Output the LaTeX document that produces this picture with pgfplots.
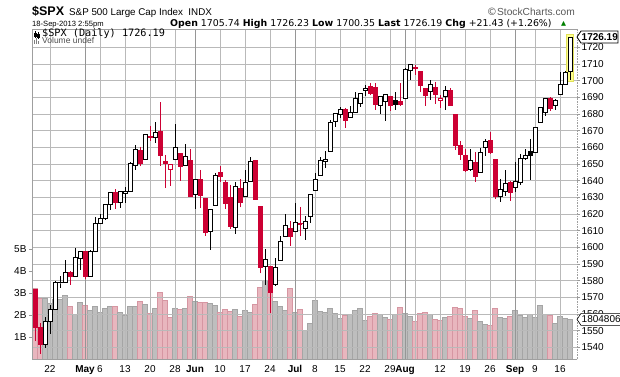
\documentclass[border=0pt]{standalone}
\usepackage{pgfplots}
\pgfplotsset{compat=1.18}
\usepackage{pgfplotstable}
\usepgfplotslibrary{statistics}
\usepackage{fontspec}
\setmainfont{Liberation Sans}
\newfontfamily\monofont{DejaVu Sans Mono}
\newfontfamily\symfont{DejaVu Sans}
\definecolor{spxred}{RGB}{204,0,51}
\definecolor{volgray}{RGB}{190,190,190}
\definecolor{volgrayd}{RGB}{165,165,165}
\definecolor{volpink}{RGB}{232,182,190}
\definecolor{volpinkd}{RGB}{214,150,162}
\definecolor{gridc}{RGB}{185,185,185}
\definecolor{gridm}{RGB}{150,150,150}
\definecolor{hlyellow}{RGB}{255,255,140}
\definecolor{hlyellowd}{RGB}{225,225,90}
\definecolor{upgreen}{RGB}{0,128,0}

% i = trading day index (0 = 17-Apr-2013), o h l c = price, v = volume (billions)
\pgfplotstableread{
i o h l c v
0 1574.57 1574.57 1543.69 1552.01 3.21
1 1552.03 1554.38 1536.03 1541.61 2.76
2 1541.61 1558.33 1539.80 1555.25 2.76
3 1555.25 1565.55 1548.19 1562.50 2.53
4 1562.50 1579.58 1562.50 1578.78 2.71
5 1578.78 1583.00 1575.80 1578.79 2.71
6 1578.93 1592.64 1578.93 1585.16 2.91
7 1585.16 1585.78 1577.56 1582.24 2.41
8 1582.34 1599.61 1582.34 1593.61 2.05
9 1593.58 1597.57 1586.50 1597.57 2.59
10 1597.55 1597.55 1581.28 1582.70 2.45
11 1582.77 1598.60 1582.77 1597.59 2.23
12 1597.60 1618.46 1597.60 1614.42 2.41
13 1614.40 1619.77 1614.21 1617.50 2.15
14 1617.55 1626.03 1616.64 1625.96 2.30
15 1625.95 1632.78 1622.70 1632.69 2.41
16 1632.69 1635.01 1623.09 1626.67 2.41
17 1626.69 1633.70 1623.71 1633.70 2.12
18 1632.10 1636.00 1626.74 1633.77 2.00
19 1633.75 1651.10 1633.75 1650.34 2.41
20 1649.13 1661.49 1646.68 1658.78 2.42
21 1658.07 1660.51 1648.60 1650.47 2.64
22 1652.45 1667.47 1652.45 1667.47 2.50
23 1665.71 1672.84 1663.52 1666.29 2.08
24 1666.20 1674.93 1662.67 1669.16 2.30
25 1669.39 1687.18 1648.86 1655.35 3.03
26 1651.62 1655.50 1635.53 1650.51 2.68
27 1646.67 1649.78 1636.88 1649.60 1.89
28 1652.63 1674.21 1652.63 1660.06 2.30
29 1656.57 1656.57 1640.05 1648.36 2.26
30 1649.14 1661.91 1648.61 1654.41 2.30
31 1652.13 1658.99 1630.74 1630.74 2.86
32 1631.71 1640.42 1622.72 1640.42 2.64
33 1640.73 1646.53 1623.62 1631.38 2.56
34 1629.05 1629.31 1607.09 1608.90 2.59
35 1609.29 1622.56 1598.23 1622.56 2.53
36 1625.27 1644.40 1625.27 1643.38 2.45
37 1644.67 1648.69 1639.26 1642.81 2.15
38 1638.64 1640.13 1622.92 1626.13 2.27
39 1629.94 1637.71 1610.92 1612.52 2.18
40 1612.15 1639.25 1608.07 1636.36 2.26
41 1635.52 1640.80 1623.96 1626.73 1.95
42 1630.64 1646.50 1630.34 1639.04 2.20
43 1639.77 1654.19 1639.77 1651.81 2.15
44 1651.83 1652.45 1628.91 1628.93 2.48
45 1624.62 1624.62 1584.32 1588.19 3.26
46 1588.62 1599.19 1577.70 1592.43 3.59
47 1588.77 1588.77 1560.33 1573.09 3.10
48 1577.52 1593.79 1577.09 1588.03 2.64
49 1592.27 1606.83 1592.27 1603.26 2.42
50 1606.44 1620.07 1606.44 1613.20 2.23
51 1611.12 1615.94 1601.06 1606.28 3.21
52 1609.78 1626.61 1609.78 1614.96 2.12
53 1614.29 1624.26 1606.77 1614.08 2.27
54 1611.48 1618.97 1604.57 1615.41 1.32
55 1618.65 1632.07 1614.71 1631.89 1.62
56 1634.20 1644.68 1634.20 1640.46 2.68
57 1642.89 1654.18 1642.89 1652.32 2.18
58 1651.56 1657.92 1647.66 1652.62 2.15
59 1657.41 1676.63 1657.41 1675.02 2.30
60 1675.26 1680.19 1672.33 1680.19 2.10
61 1679.59 1684.51 1677.89 1682.50 1.85
62 1682.70 1683.73 1671.84 1676.26 2.00
63 1677.91 1684.75 1677.91 1680.91 2.05
64 1681.05 1693.12 1681.05 1689.37 2.20
65 1686.15 1692.09 1684.08 1692.09 2.30
66 1694.41 1697.61 1690.67 1695.53 1.75
67 1696.63 1698.78 1691.13 1692.39 1.95
68 1696.06 1698.38 1682.57 1685.94 2.10
69 1685.21 1690.94 1680.07 1690.25 2.05
70 1687.31 1691.85 1676.03 1691.65 1.90
71 1690.32 1690.92 1681.86 1685.33 1.80
72 1687.92 1693.19 1682.42 1685.96 2.05
73 1687.76 1698.43 1684.94 1685.73 2.35
74 1689.42 1707.85 1689.42 1706.87 2.10
75 1706.10 1709.67 1700.68 1709.67 1.95
76 1708.01 1709.24 1703.55 1707.14 1.70
77 1705.79 1705.79 1693.29 1697.37 2.10
78 1695.30 1695.30 1684.91 1690.91 2.15
79 1693.35 1700.18 1688.38 1697.48 2.05
80 1696.10 1699.42 1686.02 1691.42 1.80
81 1688.37 1691.49 1683.35 1689.47 1.75
82 1690.65 1696.81 1682.62 1694.16 1.90
83 1693.88 1695.52 1684.83 1685.39 1.95
84 1679.61 1679.61 1658.59 1661.32 2.35
85 1661.22 1663.60 1652.61 1655.83 2.30
86 1655.25 1659.18 1645.84 1646.06 1.95
87 1646.81 1658.92 1646.08 1652.35 1.85
88 1650.66 1656.99 1639.43 1642.80 2.20
89 1645.03 1659.55 1645.03 1656.96 1.70
90 1659.92 1664.85 1654.81 1663.50 1.60
91 1664.29 1669.51 1656.02 1656.78 1.55
92 1652.54 1652.54 1629.05 1630.48 2.30
93 1630.25 1641.18 1627.47 1634.96 1.90
94 1633.50 1646.41 1630.88 1638.17 1.85
95 1638.89 1640.08 1628.05 1632.97 1.95
96 1635.95 1651.35 1633.41 1639.77 2.20
97 1638.72 1655.72 1637.41 1653.08 2.00
98 1653.28 1659.17 1653.07 1655.08 1.90
99 1657.44 1664.83 1640.62 1655.17 2.05
100 1656.85 1672.40 1656.85 1671.71 1.92
101 1675.11 1684.09 1675.11 1683.99 2.45
102 1681.04 1689.13 1678.70 1689.13 2.05
103 1689.21 1689.97 1681.96 1683.42 2.00
104 1685.04 1688.73 1682.22 1687.99 1.62
105 1691.70 1704.95 1691.70 1697.60 1.95
106 1697.73 1705.52 1697.73 1704.76 1.85
107 1705.74 1726.23 1700.35 1726.19 1.80
}\spx
% close of 16-Apr-2013 (colours the first day)
\def\firstprev{1574.57}
\pgfplotstablegetrowsof{\spx}
\pgfmathtruncatemacro\lastrow{\pgfplotsretval-1}

\pgfplotsset{
  chartbox/.style={
    at={(32pt,17pt)}, anchor=south west,
    width=545pt, height=329.7pt, scale only axis,
    xmin=-0.6, xmax=108.4,
  },
}

\begin{document}
\begin{tikzpicture}
\useasboundingbox (0pt,0pt) rectangle (620pt,376pt);

% ---------- volume axis ----------
\begin{axis}[
  chartbox, ymin=0, ymax=14.99,
  hide x axis,
  axis y line*=left,
  y axis line style={draw=none},
  ytick={1,2,3,4,5},
  yticklabels={1B,2B,3B,4B,5B},
  tick align=outside, major tick length=3pt,
  ytick style={gray!80, line width=0.5pt},
  tick label style={font=\fontsize{10}{12}\selectfont},
  yticklabel style={xshift=1pt},
]
\edef\prevc{\firstprev}
\pgfplotsforeachungrouped \r in {0,...,\lastrow}{%
  \pgfplotstablegetelem{\r}{i}\of\spx \edef\vi{\pgfplotsretval}%
  \pgfplotstablegetelem{\r}{c}\of\spx \edef\vc{\pgfplotsretval}%
  \pgfplotstablegetelem{\r}{v}\of\spx \edef\vv{\pgfplotsretval}%
  \ifdim\vc pt<\prevc pt \def\vcol{volpink}\def\vdraw{volpinkd}\else\def\vcol{volgray}\def\vdraw{volgrayd}\fi
  \edef\doit{\noexpand\addplot[ybar, bar shift=0pt, bar width=0.96, fill=\vcol, draw=\vdraw, line width=0.4pt] coordinates {(\vi,\vv)};}%
  \doit
  \edef\prevc{\vc}%
}
\coordinate (lastv) at (axis cs:108.4,1.80);
\end{axis}

% ---------- price axis ----------
\begin{axis}[
  chartbox, ymin=1533.0, ymax=1730.84,
  axis line style={draw=none},
  ytick={1540,1550,...,1720},
  ytick pos=right, yticklabel pos=right,
  tick align=outside, major tick length=3pt,
  ytick style={gray!80, line width=0.5pt},
  yticklabel style={xshift=-2pt},
  xtick={3,13,18,23,28,37,42,47,56,61,66,71,76,81,86,91,100,105},
  xticklabels={22,6,13,20,28,10,17,24,8,15,22,29,,12,19,26,9,16},
  extra x ticks={10,32,52,74,96},
  extra x tick labels={\textbf{May},\textbf{Jun},\textbf{Jul},\textbf{Aug},\textbf{Sep}},
  extra x tick style={grid=major, grid style={draw=gridm, line width=1pt}, xtick style={draw=none}},
  xtick style={draw=none},
  xmajorgrids, ymajorgrids,
  grid style={draw=gridc, line width=1pt},
  tick label style={font=\fontsize{10}{12}\selectfont},
  /pgf/number format/assume math mode=true,
  /pgf/number format/1000 sep={},
  clip mode=individual,
]
% highlight of the latest bar
\addplot[fill=hlyellow, draw=hlyellowd, line width=0.6pt,
  boxplot prepared={draw direction=y, draw position=107, lower whisker=1699.6, lower quartile=1699.6,
    median=1699.6, upper quartile=1727.6, upper whisker=1727.6, box extend=1.5, whisker extend=0}]
  coordinates {};
\edef\prevc{\firstprev}
\pgfplotsforeachungrouped \r in {0,...,\lastrow}{%
  \pgfplotstablegetelem{\r}{i}\of\spx \edef\vi{\pgfplotsretval}%
  \pgfplotstablegetelem{\r}{o}\of\spx \edef\vo{\pgfplotsretval}%
  \pgfplotstablegetelem{\r}{h}\of\spx \edef\vh{\pgfplotsretval}%
  \pgfplotstablegetelem{\r}{l}\of\spx \edef\vl{\pgfplotsretval}%
  \pgfplotstablegetelem{\r}{c}\of\spx \edef\vc{\pgfplotsretval}%
  \ifdim\vc pt<\prevc pt \def\ccol{spxred}\else\def\ccol{black}\fi
  \ifdim\vc pt<\vo pt
    \edef\cfill{\ccol}\edef\blo{\vc}\edef\bhi{\vo}%
  \else
    \def\cfill{white}\edef\blo{\vo}\edef\bhi{\vc}%
  \fi
  \edef\doit{\noexpand\addplot[draw=\ccol, fill=\cfill, line width=1pt, solid,
     boxplot prepared={draw direction=y, draw position=\vi, lower whisker=\vl, lower quartile=\blo,
       median=\blo, upper quartile=\bhi, upper whisker=\vh, box extend=0.8, whisker extend=0}]
     coordinates {};}%
  \doit
  \edef\prevc{\vc}%
}
\coordinate (lastp) at (axis cs:108.4,1726.19);
\coordinate (pSW) at (rel axis cs:0,0);
\coordinate (pNE) at (rel axis cs:1,1);
\end{axis}

\begin{scope}[x=1pt,y=1pt]
% frame
\draw[gray!75, line width=0.6pt] (pSW -| pNE) -- (pSW) -- (pSW |- pNE) -- (pNE);
\draw[gray!75, line width=0.6pt, densely dotted] (pSW -| pNE) -- (pNE);

% value flags on the right
\draw[fill=white, line width=0.8pt] (lastp) -- ++(4,6) -- ++(37,0) -- ++(0,-12) -- ++(-37,0) -- cycle;
\node[anchor=west, inner sep=0pt, font=\bfseries\fontsize{10}{12}\selectfont] at ([xshift=4.5pt]lastp) {1726.19};
\draw[fill=white, line width=0.6pt] (lastv) ++(43,6) -- ++(-39,0) -- ++(-4,-6) -- ++(4,-6) -- ++(39,0);
\node[anchor=west, inner sep=0pt, font=\fontsize{10}{12}\selectfont] at ([xshift=4.5pt]lastv) {1804806};

% legend inside plot
\begin{scope}[line width=0.7pt]
\draw (35,338) -- (35,345); \draw (38,337) -- (38,344);
\draw (34,340) rectangle (36,343); \draw (37,339) rectangle (39,342);
\fill[gray] (34,332) rectangle (35,336); \fill[gray] (36,332) rectangle (37,338); \fill[gray] (38,332) rectangle (39,335);
\end{scope}
\node[anchor=base west, inner sep=0pt, font=\monofont\fontsize{10.2}{11}\selectfont] at (42,339.3) {\$SPX (Daily) 1726.19};
\node[anchor=base west, inner sep=0pt, font=\fontsize{8.5}{10}\selectfont, text=black!70] at (42,332.3) {Volume undef};

% header
\node[anchor=base west, inner sep=0pt, font=\bfseries\fontsize{12.5}{14}\selectfont] at (32,361) {\$SPX};
\node[anchor=base west, inner sep=0pt, font=\fontsize{9.8}{11}\selectfont] at (69,361) {S\&P 500 Large Cap Index\ \ INDX};
\node[anchor=base east, inner sep=0pt, font=\fontsize{10.2}{11}\selectfont, text=black!65] at (575,361) {\symfont\textcopyright\rmfamily StockCharts.com};
\node[anchor=base west, inner sep=0pt, font=\fontsize{7.6}{9}\selectfont] at (32,350) {18-Sep-2013 2:55pm};
\node[anchor=base west, inner sep=0pt, font=\symfont\fontsize{9.4}{11}\selectfont] at (170,350)
  {\textbf{Open} 1705.74 \textbf{High} 1726.23 \textbf{Low} 1700.35 \textbf{Last} 1726.19 \textbf{Chg} +21.43 (+1.26\%)};
\node[anchor=base west, inner sep=0pt, font=\symfont\fontsize{6.5}{8}\selectfont, text=upgreen] at (561,351) {▲};
\end{scope}
\end{tikzpicture}
\end{document}
